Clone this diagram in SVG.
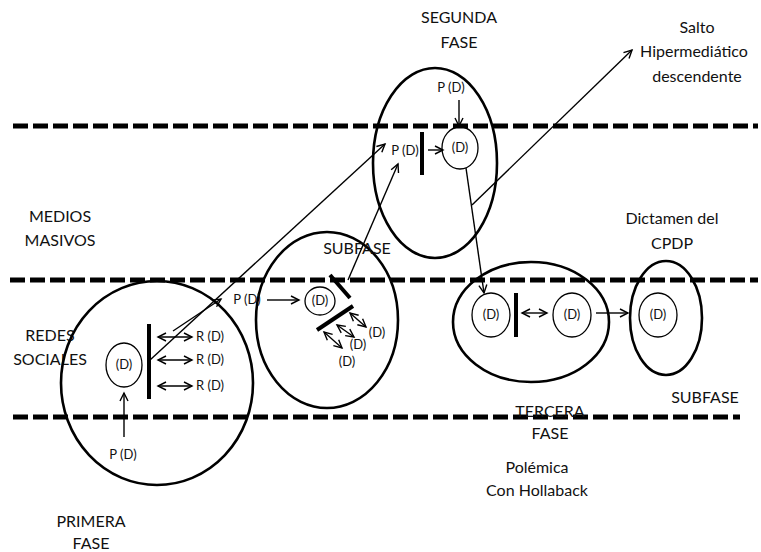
<svg xmlns="http://www.w3.org/2000/svg" width="761" height="552" viewBox="0 0 761 552">
<style>
text{font-family:Lato,"Open Sans","Liberation Sans",sans-serif;fill:#111;text-anchor:middle}
.lbl{font-size:16px}
.d{font-size:13px}
.dash{stroke:#000;stroke-width:5;stroke-dasharray:15 5;fill:none}
.big{fill:none;stroke:#000;stroke-width:2.6}
.sm{fill:none;stroke:#000;stroke-width:1.3}
.bar{stroke:#000;stroke-width:4;stroke-linecap:butt}
.ln{stroke:#000;stroke-width:1.4;fill:none}
.ar{marker-end:url(#ah)}
.da{marker-end:url(#ah);marker-start:url(#ahs)}
</style>
<defs>
<marker id="ah" markerUnits="userSpaceOnUse" markerWidth="12" markerHeight="12" viewBox="-10 -6 12 12" refX="0" refY="0" orient="auto">
<path d="M-8,-4 L0,0 L-8,4" fill="none" stroke="#000" stroke-width="1.4"/>
</marker>
<marker id="ahs" markerUnits="userSpaceOnUse" markerWidth="12" markerHeight="12" viewBox="-10 -6 12 12" refX="0" refY="0" orient="auto-start-reverse">
<path d="M-8,-4 L0,0 L-8,4" fill="none" stroke="#000" stroke-width="1.4"/>
</marker>
</defs>
<rect width="761" height="552" fill="#fff"/>

<g id="bands">
<line class="dash" x1="13" y1="126" x2="758" y2="126"/>
<line class="dash" x1="10" y1="280" x2="758" y2="280"/>
<line class="dash" x1="13" y1="417" x2="740" y2="417"/>
</g>

<g id="labels">
<text class="lbl" x="60" y="222">MEDIOS</text>
<text class="lbl" x="60" y="246">MASIVOS</text>
<text class="lbl" x="50" y="341">REDES</text>
<text class="lbl" x="50" y="365">SOCIALES</text>
<text class="lbl" x="91" y="527">PRIMERA</text>
<text class="lbl" x="91" y="549">FASE</text>
<text class="lbl" x="459" y="23">SEGUNDA</text>
<text class="lbl" x="459" y="48">FASE</text>
<text class="lbl" x="697" y="33">Salto</text>
<text class="lbl" x="694" y="57">Hipermediático</text>
<text class="lbl" x="697" y="82">descendente</text>
<text class="lbl" x="672" y="224">Dictamen del</text>
<text class="lbl" x="672" y="249">CPDP</text>
<text class="lbl" x="705" y="403">SUBFASE</text>
<text class="lbl" x="550" y="417">TERCERA</text>
<text class="lbl" x="550" y="439">FASE</text>
<text class="lbl" x="537" y="473">Polémica</text>
<text class="lbl" x="537" y="496">Con Hollaback</text>
</g>

<g id="primera-fase">
<ellipse class="big" cx="157" cy="383" rx="96" ry="102"/>
<ellipse class="sm" cx="124" cy="365" rx="18" ry="22"/>
<text class="d" x="124" y="369">(D)</text>
<line class="bar" x1="149" y1="324" x2="149" y2="399"/>
<text class="d" x="210" y="341">R (D)</text>
<text class="d" x="210" y="364">R (D)</text>
<text class="d" x="210" y="390">R (D)</text>
<text class="d" x="123" y="459">P (D)</text>
</g>

<g id="subfase-1">
<ellipse class="big" cx="327" cy="320" rx="71" ry="88"/>
<text class="lbl" x="357" y="254">SUBFASE</text>
<text class="d" x="247" y="304">P (D)</text>
<ellipse class="sm" cx="320" cy="301" rx="15" ry="14"/>
<text class="d" x="320" y="305">(D)</text>
<line class="bar" x1="330" y1="275" x2="350" y2="298"/>
<line class="bar" x1="353" y1="306" x2="317" y2="330"/>
<text class="d" x="377" y="337">(D)</text>
<text class="d" x="358" y="349">(D)</text>
<text class="d" x="347" y="366">(D)</text>
</g>

<g id="segunda-fase">
<ellipse class="big" cx="435" cy="163" rx="62" ry="95"/>
<text class="d" x="451" y="92">P (D)</text>
<text class="d" x="405" y="155">P (D)</text>
<line class="bar" x1="422" y1="132" x2="422" y2="175"/>
<ellipse class="sm" cx="460" cy="148" rx="18" ry="21"/>
<text class="d" x="460" y="152">(D)</text>
</g>

<g id="tercera-fase">
<ellipse class="big" cx="531" cy="322" rx="78" ry="60"/>
<ellipse class="sm" cx="491" cy="315" rx="19" ry="22"/>
<text class="d" x="491" y="319">(D)</text>
<line class="bar" x1="516" y1="293" x2="516" y2="337"/>
<ellipse class="sm" cx="572" cy="315" rx="19" ry="22"/>
<text class="d" x="572" y="319">(D)</text>
</g>

<g id="dictamen">
<ellipse class="big" cx="666" cy="318" rx="36" ry="57"/>
<ellipse class="sm" cx="658" cy="315" rx="19" ry="22"/>
<text class="d" x="658" y="319">(D)</text>
</g>

<g id="connectors">
<line class="ln da" x1="158" y1="337" x2="192" y2="337"/>
<line class="ln da" x1="158" y1="360" x2="192" y2="360"/>
<line class="ln da" x1="158" y1="386" x2="192" y2="386"/>
<line class="ln ar" x1="124" y1="437" x2="124" y2="393"/>
<line class="ln ar" x1="150" y1="360" x2="385" y2="144"/>
<line class="ln ar" x1="173" y1="331" x2="221" y2="299"/>
<line class="ln ar" x1="267" y1="300" x2="299" y2="300"/>
<line class="ln da" x1="350" y1="313" x2="366" y2="327"/>
<line class="ln da" x1="337" y1="325" x2="354" y2="337"/>
<line class="ln da" x1="324" y1="332" x2="342" y2="348"/>
<line class="ln ar" x1="348" y1="280" x2="398" y2="164"/>
<line class="ln ar" x1="459" y1="100" x2="459" y2="126"/>
<line class="ln ar" x1="428" y1="150" x2="443" y2="150"/>
<line class="ln ar" x1="466" y1="168" x2="484" y2="293"/>
<line class="ln ar" x1="472" y1="205" x2="632" y2="50"/>
<line class="ln da" x1="522" y1="313" x2="547" y2="313"/>
<line class="ln ar" x1="596" y1="313" x2="628" y2="313"/>
</g>
</svg>
